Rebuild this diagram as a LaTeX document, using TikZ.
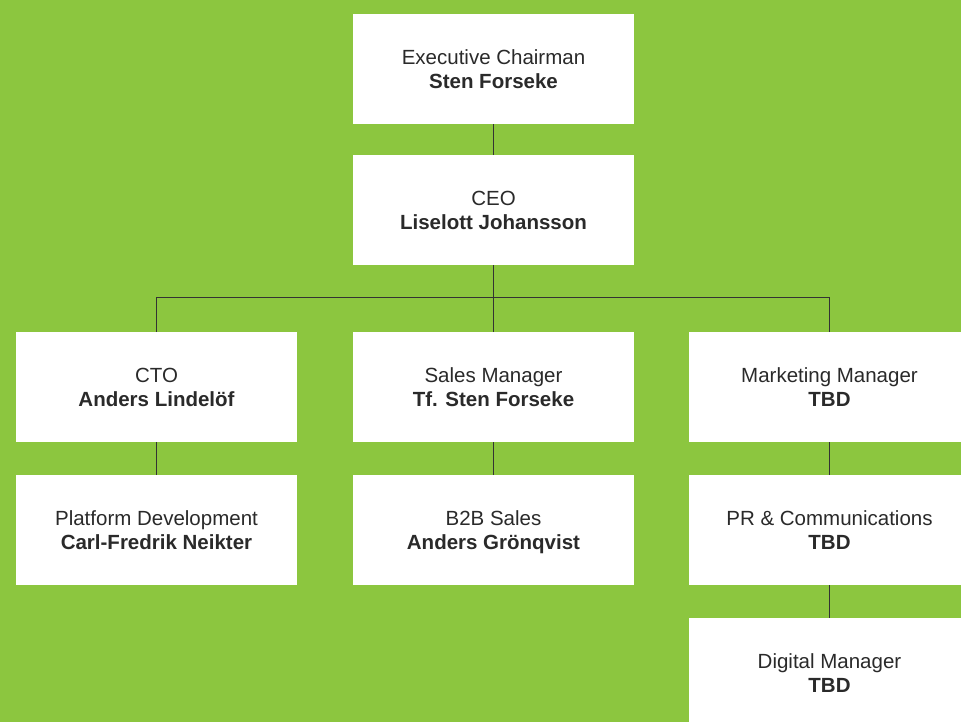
\documentclass[tikz,border=0pt]{standalone}
\usepackage{fontspec}
\setmainfont{Liberation Sans}
\definecolor{bggreen}{HTML}{8CC63F}
\definecolor{txt}{HTML}{2A2A2A}
\definecolor{linec}{HTML}{333333}
\begin{document}
\begin{tikzpicture}[x=1pt,y=-1pt,
  box/.style={fill=white,draw=none,minimum width=281pt,minimum height=110pt,inner sep=0pt,anchor=center},
  ttl/.style={anchor=base,text=txt,font=\fontsize{20.5}{24}\selectfont,inner sep=0pt},
  nm/.style={anchor=base,text=txt,font=\fontsize{20.5}{24}\selectfont\bfseries,inner sep=0pt},
  conn/.style={draw=linec,line width=1.1pt}]
\useasboundingbox (0,0) rectangle (961,722);
\fill[bggreen] (0,0) rectangle (961,722);
\clip (0,0) rectangle (961,722);
% boxes
\node[box] (chair) at (493.5,69) {};
\node[box] (ceo) at (493.5,210) {};
\node[box] (cto) at (156.5,387) {};
\node[box] (sales) at (493.5,387) {};
\node[box] (mkt) at (829.5,387) {};
\node[box] (plat) at (156.5,530) {};
\node[box] (b2b) at (493.5,530) {};
\node[box] (pr) at (829.5,530) {};
\node[box] (dig) at (829.5,673) {};
% texts
\foreach \b/\t/\n in {chair/Executive Chairman/Sten Forseke,
  ceo/CEO/Liselott Johansson,
  cto/CTO/Anders Lindelöf,
  sales/Sales Manager/Tf. Sten Forseke,
  mkt/Marketing Manager/TBD,
  plat/Platform Development/Carl-Fredrik Neikter,
  b2b/B2B Sales/Anders Grönqvist,
  pr/PR \& Communications/TBD,
  dig/Digital Manager/TBD}{
  \node[ttl] (\b-t) at ([yshift=4.5pt]\b.center) {\t};
  \node[nm] (\b-n) at ([yshift=-19.5pt]\b.center) {\n};
}
% connectors
\coordinate (bar) at (493.5,297.5);
\draw[conn] (chair.south) -- (ceo.north);
\draw[conn] (ceo.south) -- (bar);
\draw[conn,line join=miter] (cto.north) |- (bar) -- (bar -| mkt.north) -- (mkt.north);
\draw[conn] (bar) -- (sales.north);
\draw[conn] (cto.south) -- (plat.north);
\draw[conn] (sales.south) -- (b2b.north);
\draw[conn] (mkt.south) -- (pr.north);
\draw[conn] (pr.south) -- (dig.north);
\end{tikzpicture}
\end{document}
